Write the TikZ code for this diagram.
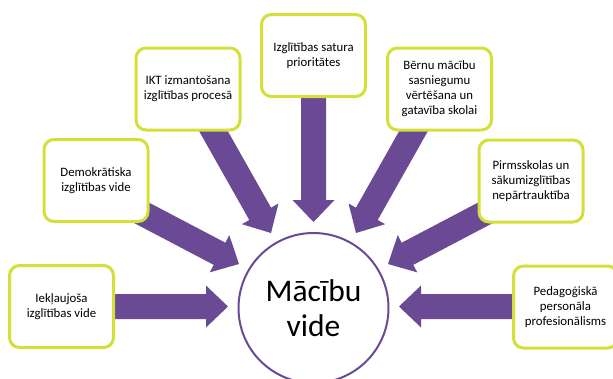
\documentclass[tikz,border=0pt]{standalone}
\usepackage{fontspec}
\setmainfont{Carlito}
\usetikzlibrary{calc}
\definecolor{arrowpurple}{HTML}{6A4A94}
\definecolor{boxgreen}{HTML}{D4DF3A}
\newcommand\blockarrow[2]{%
  \coordinate (hh) at ($(#2)!22pt!(#1)$);
  \fill[arrowpurple] ($(#1)!12.5pt!90:(#2)$) -- ($(hh)!12.5pt!90:(#2)$) -- ($(hh)!21pt!90:(#2)$) -- (#2)
    -- ($(hh)!21pt!-90:(#2)$) -- ($(hh)!12.5pt!-90:(#2)$) -- ($(#1)!12.5pt!-90:(#2)$) -- cycle;}
\tikzset{
  topic/.style={draw=boxgreen, line width=3pt, rounded corners=10pt, fill=white,
    minimum width=104pt, minimum height=82pt, align=center, inner sep=0pt,
    font=\fontsize{12.8}{15}\selectfont},
  hub/.style={circle, draw=arrowpurple, line width=2pt, fill=white, minimum size=150pt,
    align=center, inner sep=0pt, font=\fontsize{31.5}{35}\selectfont}
}
\begin{document}
\begin{tikzpicture}[x=1pt,y=-1pt]
\useasboundingbox (0,0) rectangle (613,378);
% arrow coordinates
\coordinate (s1) at (100,306.5);   \coordinate (t1) at (228,306.5);
\coordinate (s2) at (140,212);     \coordinate (t2) at (239,264);
\coordinate (s3) at (210,125);     \coordinate (t3) at (271,233);
\coordinate (s4) at (313.5,90);    \coordinate (t4) at (313.5,222);
\coordinate (s5) at (417,125);     \coordinate (t5) at (356,233);
\coordinate (s6) at (487,212);     \coordinate (t6) at (388,264);
\coordinate (s7) at (527,306.5);   \coordinate (t7) at (399,306.5);
\blockarrow{s1}{t1}
\blockarrow{s2}{t2}
\blockarrow{s3}{t3}
\blockarrow{s4}{t4}
\blockarrow{s5}{t5}
\blockarrow{s6}{t6}
\blockarrow{s7}{t7}
% boxes
\node[topic] (b1) at (61.5,306.5) {Iekļaujoša\\izglītības vide};
\node[topic] (b2) at (96,180.5) {Demokrātiska\\izglītības vide};
\node[topic] (b3) at (188,89) {IKT izmantošana\\izglītības procesā};
\node[topic] (b4) at (313.5,55.5) {Izglītības satura\\prioritātes};
\node[topic] (b5) at (439.5,89) {Bērnu mācību\\sasniegumu\\vērtēšana un\\gatavība skolai};
\node[topic] (b6) at (531,181) {Pirmsskolas un\\sākumizglītības\\nepārtrauktība};
\node[topic] (b7) at (565.5,307) {Pedagoģiskā\\personāla\\profesionālisms};
% hub
\node[hub] (c) at (313.5,308) {Mācību\\vide};
\end{tikzpicture}
\end{document}
